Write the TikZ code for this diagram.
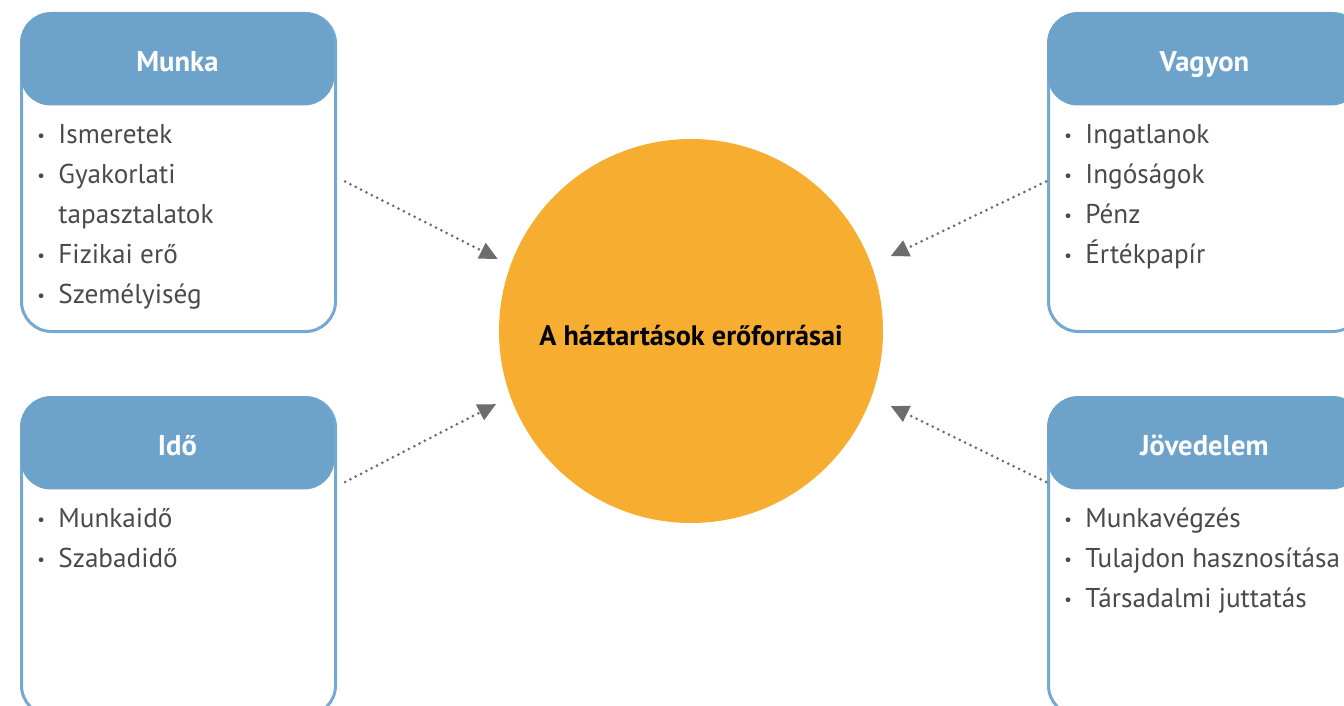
\documentclass[tikz,border=0pt]{standalone}
\usepackage{fontspec}
\setmainfont{PT Sans}
\usepackage{tikz}
\usetikzlibrary{positioning,arrows.meta}

\definecolor{fejlecKek}{HTML}{6DA3CA}
\definecolor{keretKek}{HTML}{74A9D4}
\definecolor{korSarga}{HTML}{F7AE30}
\definecolor{szovegSzurke}{HTML}{4A4A4A}
\definecolor{nyilSzurke}{HTML}{6D6D6D}

\newcommand{\tetel}[1]{\strut\makebox[10.5pt][l]{\raisebox{0.08em}{\scalebox{0.62}{\textbullet}}}#1}
\newcommand{\folyt}[1]{\strut\hspace*{10.5pt}#1}

\tikzset{
    doboz/.style={draw=keretKek, line width=1.5pt, rounded corners=15pt, fill=white,
        minimum width=157pt, minimum height=159pt, anchor=north west},
    fejlec/.style={fill=fejlecKek, rounded corners=15pt, minimum width=157pt,
        minimum height=46.5pt, anchor=north west, text=white,
        text height=12.5pt, text depth=0pt, font=\bfseries\fontsize{14.3}{16}\selectfont},
    lista/.style={align=left, inner sep=0pt, text=szovegSzurke,
        font=\fontsize{13.6}{20}\selectfont},
    kor/.style={circle, fill=korSarga, minimum size=192pt, inner sep=0pt,
        text height=14.9pt, text depth=0pt, font=\bfseries\fontsize{14.1}{16}\selectfont},
    nyil/.style={draw=nyilSzurke, line width=1.5pt, line cap=round,
        dash pattern=on 0pt off 3pt, -{Triangle[length=9pt,width=8.5pt]}}
}

\begin{document}
\begin{tikzpicture}[x=0.5pt,y=-0.5pt]
    \useasboundingbox (0,0) rectangle (1344,706);
    \clip (0,0) rectangle (1344,706);

    % kozepso kor
    \node[kor] (kozep) at (691,331) {A háztartások erőforrásai};

    % Munka
    \node[doboz] (munka) at (20,12) {};
    \node[fejlec] (munkaFej) at (20,12) {Munka};
    \node[lista, below right=4.5pt and 8.5pt of munkaFej.south west] (munkaLista) {
        \tetel{Ismeretek}\\ \tetel{Gyakorlati}\\ \folyt{tapasztalatok}\\
        \tetel{Fizikai erő}\\ \tetel{Személyiség}};

    % Vagyon
    \node[doboz] (vagyon) at (1047,12) {};
    \node[fejlec] (vagyonFej) at (1047,12) {Vagyon};
    \node[lista, below right=4.5pt and 8.5pt of vagyonFej.south west] (vagyonLista) {
        \tetel{Ingatlanok}\\ \tetel{Ingóságok}\\ \tetel{Pénz}\\ \tetel{Értékpapír}};

    % Ido
    \node[doboz] (ido) at (20,396) {};
    \node[fejlec] (idoFej) at (20,396) {Idő};
    \node[lista, below right=4.5pt and 8.5pt of idoFej.south west] (idoLista) {
        \tetel{Munkaidő}\\ \tetel{Szabadidő}};

    % Jovedelem
    \node[doboz] (jovedelem) at (1047,396) {};
    \node[fejlec] (jovedelemFej) at (1047,396) {Jövedelem};
    \node[lista, below right=4.5pt and 8.5pt of jovedelemFej.south west] (jovedelemLista) {
        \tetel{Munkavégzés}\\ \tetel{Tulajdon hasznosítása}\\ \tetel{Társadalmi juttatás}};

    % nyilak
    \draw[nyil, shorten >=7pt] ([shift={(4pt,-4.5pt)}]munka.east) -- (kozep.160);
    \draw[nyil, shorten >=8pt] ([shift={(4pt,-43pt)}]ido.north east) -- (kozep.200);
    \draw[nyil, shorten >=10.5pt] ([shift={(-0.5pt,-4.5pt)}]vagyon.west) -- (kozep.20);
    \draw[nyil, shorten >=10.5pt] ([shift={(-0.5pt,-43pt)}]jovedelem.north west) -- (kozep.340);
\end{tikzpicture}
\end{document}
